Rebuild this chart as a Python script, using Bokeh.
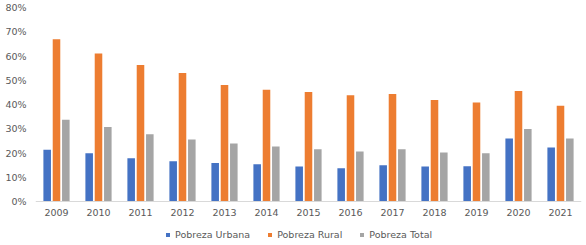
from bokeh.plotting import figure
from bokeh.models import ColumnDataSource, FactorRange, NumeralTickFormatter, Legend, LegendItem, FixedTicker, Span
from bokeh.transform import dodge
from bokeh.core.properties import value
from bokeh.embed import file_html
from bokeh.resources import INLINE

years = ["2009", "2010", "2011", "2012", "2013", "2014", "2015", "2016", "2017", "2018", "2019", "2020", "2021"]
urbana = [0.213, 0.199, 0.178, 0.166, 0.159, 0.154, 0.144, 0.137, 0.149, 0.144, 0.145, 0.260, 0.223]
rural = [0.669, 0.610, 0.563, 0.530, 0.480, 0.461, 0.452, 0.438, 0.443, 0.419, 0.408, 0.456, 0.395]
total = [0.337, 0.307, 0.277, 0.256, 0.239, 0.227, 0.216, 0.206, 0.216, 0.202, 0.199, 0.299, 0.260]
y_ticks = [0, 0.1, 0.2, 0.3, 0.4, 0.5, 0.6, 0.7, 0.8]
series_names = ["Pobreza Urbana", "Pobreza Rural", "Pobreza Total"]
colors = ["#4472C4", "#ED7D31", "#A5A5A5"]

src = ColumnDataSource(dict(years=years, urbana=urbana, rural=rural, total=total,
                            zero=[0] * len(years)))

FONT = "DejaVu Sans"
TXT = "#595959"

# frame spans down to the canvas bottom; the region below 0 holds year labels and legend
p = figure(x_range=FactorRange(*years, range_padding=0), y_range=(-0.1814, 0.8),
           width=586, height=245, output_backend="svg", toolbar_location=None,
           x_axis_location=None,
           min_border_left=35, min_border_right=5, min_border_top=7, min_border_bottom=0)
p.outline_line_color = None
p.grid.visible = False
p.background_fill_color = "white"
p.border_fill_color = "white"

w = 0.18
off = 0.222
r1 = p.vbar(x=dodge("years", -off, range=p.x_range), top="urbana", width=w, source=src,
            fill_color=colors[0], line_color=None)
r2 = p.vbar(x=dodge("years", 0, range=p.x_range), top="rural", width=w, source=src,
            fill_color=colors[1], line_color=None)
r3 = p.vbar(x=dodge("years", off, range=p.x_range), top="total", width=w, source=src,
            fill_color=colors[2], line_color=None)

p.add_layout(Span(location=0, dimension="width", line_color="#D9D9D9", line_width=1))

p.text(x="years", y="zero", text="years", source=src, y_offset=7,
       text_align="center", text_baseline="top", text_font=value(FONT),
       text_font_size="9.5px", text_color=TXT)

p.yaxis.ticker = FixedTicker(ticks=y_ticks)
p.yaxis.formatter = NumeralTickFormatter(format="0%")
p.yaxis.axis_line_color = None
p.yaxis.major_tick_line_color = None
p.yaxis.minor_tick_line_color = None
p.yaxis.major_tick_out = 0
p.yaxis.major_tick_in = 0
p.yaxis.major_label_standoff = 9
p.yaxis.major_label_text_font = FONT
p.yaxis.major_label_text_font_size = "9.5px"
p.yaxis.major_label_text_color = TXT

legend = Legend(items=[LegendItem(label=series_names[0], renderers=[r1]),
                       LegendItem(label=series_names[1], renderers=[r2]),
                       LegendItem(label=series_names[2], renderers=[r3])],
                orientation="horizontal", location=(130, 5),
                glyph_width=5, glyph_height=5, label_standoff=5, spacing=17,
                padding=0, margin=0, label_height=10, label_width=10,
                label_text_font=FONT, label_text_font_size="9.5px", label_text_color=TXT,
                background_fill_alpha=0, border_line_color=None)
p.add_layout(legend, "center")

open("out.html", "w").write(file_html(p, INLINE))
